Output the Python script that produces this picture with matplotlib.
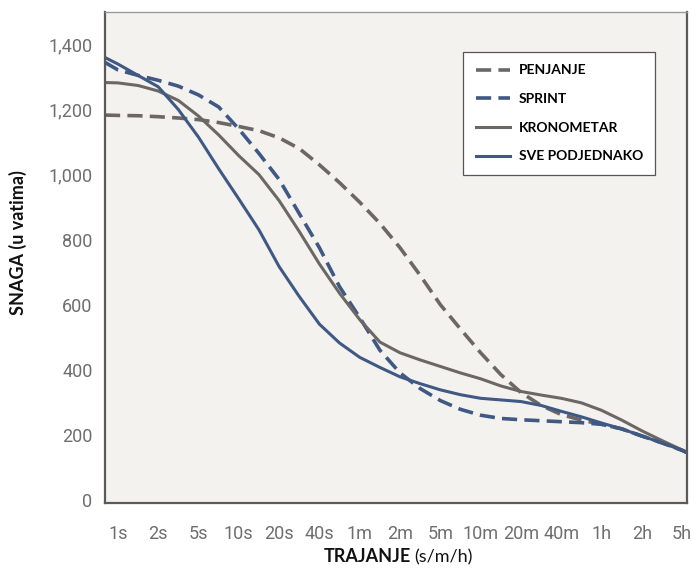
import matplotlib
matplotlib.use('Agg')
import matplotlib.pyplot as plt

# durations (categorical, evenly spaced)
durations = ['1s', '2s', '5s', '10s', '20s', '40s', '1m', '2m', '5m',
             '10m', '20m', '40m', '1h', '2h', '5h']

# x positions where values were read off the picture:
# left edge, every half step between ticks, right edge
x_read = [-0.32] + [i / 2 for i in range(29)] + [14.12]

penjanje = [1183, 1182, 1181, 1178, 1174, 1169, 1160, 1148, 1135, 1113,
            1080, 1030, 975, 915, 850, 775, 690, 600, 525, 452,
            385, 330, 290, 262, 245, 232, 218, 196, 175, 152, 145]
sprint = [1345, 1322, 1305, 1290, 1272, 1245, 1208, 1140, 1065, 985,
          880, 775, 655, 560, 460, 390, 342, 305, 278, 260,
          250, 246, 243, 240, 237, 232, 218, 196, 175, 152, 145]
kronometar = [1283, 1282, 1274, 1257, 1228, 1180, 1122, 1058, 1000, 920,
              825, 725, 635, 554, 485, 452, 430, 410, 390, 372,
              350, 333, 322, 312, 298, 275, 245, 212, 182, 153, 145]
sve_podjednako = [1360, 1340, 1305, 1270, 1200, 1115, 1018, 925, 830, 717,
                  625, 540, 482, 438, 407, 378, 357, 338, 323, 312,
                  307, 302, 290, 272, 255, 236, 218, 196, 175, 152, 145]

yticks = [0, 200, 400, 600, 800, 1000, 1200, 1400]

gray = '#6b6764'
blue = '#3f5884'

fig = plt.figure(figsize=(6.99, 5.81), dpi=100)
fig.patch.set_facecolor('white')
ax = fig.add_axes([105 / 699, 1 - 503 / 581, 582 / 699, 491 / 581])
ax.set_facecolor('#f4f2ef')

ax.plot(x_read, penjanje, color=gray, lw=2.6, dashes=(4.2, 2.0), label='PENJANJE')
ax.plot(x_read, sprint, color=blue, lw=2.6, dashes=(4.2, 2.0), label='SPRINT')
ax.plot(x_read, kronometar, color=gray, lw=2.2, label='KRONOMETAR')
ax.plot(x_read, sve_podjednako, color=blue, lw=2.2, label='SVE PODJEDNAKO')

ax.set_xlim(-0.32, 14.12)
ax.set_ylim(-10, 1500)
ax.set_xticks(range(len(durations)))
ax.set_xticklabels(durations)
ax.set_yticks(yticks)
ax.set_yticklabels(['{:,}'.format(v) for v in yticks])

for lab in ax.get_xticklabels() + ax.get_yticklabels():
    lab.set_family('Roboto')
    lab.set_fontsize(13)
    lab.set_color('#6e6e6e')
ax.tick_params(axis='both', length=0)
ax.tick_params(axis='x', pad=16)
ax.tick_params(axis='y', pad=9)

for side in ['left', 'bottom', 'right']:
    ax.spines[side].set_color('#5a5a5a')
    ax.spines[side].set_linewidth(1.6)
ax.spines['top'].set_color('#9a9a9a')
ax.spines['top'].set_linewidth(1.0)

leg = ax.legend(loc='upper left', bbox_to_anchor=((463 - 105) / 582, (503 - 52) / 491),
                frameon=True, fancybox=False, edgecolor='#555555', facecolor='white',
                framealpha=1, handlelength=2.5, handletextpad=0.6, labelspacing=1.2,
                borderpad=0.9, borderaxespad=0,
                prop={'family': 'Lato', 'weight': 'bold', 'size': 10})
leg.get_frame().set_linewidth(0.9)

fig.text(18 / 699, 1 - 243 / 581, 'SNAGA (u vatima)', rotation=90, ha='center', va='center',
         family='Lato', weight='bold', fontsize=13, color='#111111')
fig.text(411 / 699, 1 - 557 / 581, 'TRAJANJE', ha='right', va='center',
         family='Lato', weight='bold', fontsize=13, color='#111111')
fig.text(414 / 699, 1 - 557 / 581, '(s/m/h)', ha='left', va='center',
         family='Lato', fontsize=13, color='#111111')

fig.savefig('out.png', dpi=100)
